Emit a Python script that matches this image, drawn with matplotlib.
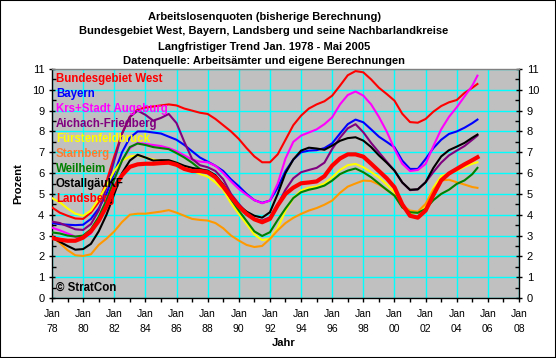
import matplotlib
matplotlib.use("Agg")
import matplotlib.pyplot as plt
from matplotlib.patches import Rectangle
from matplotlib.ticker import MultipleLocator

plt.rcParams['font.family'] = ['Liberation Sans', 'DejaVu Sans']

# ---- data (half-year sample points) ----
years = [1978.0 + 0.5 * i for i in range(55)] + [2005.33]

bundesgebiet_west = [4.35, 4.1, 3.95, 3.82, 3.8, 4.1, 4.6, 5.6, 6.8, 7.9, 8.7, 9.05, 9.15, 9.2,
                     9.25, 9.3, 9.25, 9.1, 9.0, 8.9, 8.84, 8.6, 8.3, 8.0, 7.64, 7.2, 6.8, 6.52,
                     6.52, 6.9, 7.6, 8.3, 8.76, 9.1, 9.3, 9.45, 9.72, 10.2, 10.7, 10.9, 10.84,
                     10.5, 10.1, 9.8, 9.48, 8.85, 8.45, 8.42, 8.6, 8.95, 9.22, 9.4, 9.51, 9.85,
                     10.1, 10.28]
bayern = [3.6, 3.55, 3.52, 3.5, 3.52, 3.8, 4.3, 5.0, 6.0, 7.0, 7.7, 8.0, 8.0, 7.95, 7.9, 7.75,
          7.6, 7.35, 7.05, 6.75, 6.55, 6.35, 6.1, 5.7, 5.37, 5.0, 4.7, 4.57, 4.68, 5.3, 6.1,
          6.65, 7.0, 7.08, 7.1, 7.2, 7.43, 7.9, 8.35, 8.57, 8.44, 8.1, 7.75, 7.5, 7.24, 6.6,
          6.2, 6.2, 6.68, 7.2, 7.6, 7.88, 8.0, 8.18, 8.4, 8.57]
augsburg = [3.38, 3.25, 3.1, 2.95, 2.88, 3.1, 3.8, 4.7, 5.7, 6.6, 7.2, 7.45, 7.4, 7.35, 7.3,
            7.2, 7.05, 6.85, 6.65, 6.55, 6.52, 6.35, 6.0, 5.6, 5.24, 4.95, 4.7, 4.55, 4.68,
            5.5, 6.7, 7.5, 7.8, 7.95, 8.1, 8.35, 8.68, 9.3, 9.75, 9.92, 9.72, 9.3, 8.7, 8.0,
            7.16, 6.45, 6.1, 6.15, 6.44, 7.3, 8.1, 8.7, 9.16, 9.68, 10.2, 10.68]
aichach = [3.67, 3.6, 3.45, 3.3, 3.27, 3.55, 4.2, 5.3, 6.6, 7.9, 8.7, 9.0, 8.8, 8.52, 8.65,
           8.84, 8.4, 7.5, 6.68, 6.38, 6.28, 6.1, 5.7, 5.0, 4.52, 4.1, 3.8, 3.72, 3.88, 4.5,
           5.2, 5.75, 6.04, 6.15, 6.25, 6.5, 7.16, 7.7, 8.15, 8.35, 7.96, 7.45, 7.0, 6.55,
           6.12, 5.55, 5.18, 5.22, 5.56, 6.05, 6.5, 6.85, 7.08, 7.3, 7.6, 7.8]
fuerstenfeldbruck = [4.8, 4.6, 4.3, 4.05, 3.95, 4.2, 4.75, 5.4, 6.1, 6.6, 6.8, 6.85, 6.75,
                     6.65, 6.6, 6.6, 6.5, 6.3, 6.12, 5.96, 5.83, 5.55, 5.2, 4.55, 4.04, 3.55,
                     3.05, 2.78, 2.84, 3.35, 4.2, 4.8, 5.16, 5.3, 5.35, 5.5, 5.8, 6.15, 6.38,
                     6.44, 6.28, 6.05, 5.8, 5.45, 5.08, 4.4, 4.1, 4.1, 4.44, 5.3, 5.85, 6.0,
                     6.12, 6.3, 6.45, 6.52]
starnberg = [2.95, 2.64, 2.3, 2.05, 2.02, 2.1, 2.55, 2.85, 3.2, 3.65, 4.0, 4.05, 4.05, 4.1,
             4.15, 4.22, 4.1, 3.95, 3.8, 3.75, 3.72, 3.6, 3.35, 3.0, 2.76, 2.55, 2.45, 2.5,
             2.84, 3.25, 3.6, 3.85, 4.04, 4.2, 4.32, 4.48, 4.68, 5.05, 5.35, 5.5, 5.64, 5.62,
             5.45, 5.2, 4.92, 4.44, 4.2, 4.15, 4.52, 5.2, 5.65, 5.68, 5.56, 5.45, 5.33, 5.29]
weilheim = [3.15, 3.1, 3.0, 2.95, 3.0, 3.3, 3.9, 4.7, 5.7, 6.6, 7.25, 7.42, 7.35, 7.25, 7.2,
            7.15, 6.96, 6.75, 6.5, 6.2, 6.04, 5.8, 5.4, 4.75, 4.2, 3.7, 3.2, 2.98, 3.16, 3.75,
            4.3, 4.8, 5.08, 5.2, 5.28, 5.4, 5.64, 5.95, 6.12, 6.22, 6.04, 5.8, 5.5, 5.2, 4.92,
            4.35, 4.12, 4.09, 4.28, 4.7, 5.0, 5.2, 5.48, 5.65, 5.95, 6.25]
ostallgaeu = [2.9, 2.7, 2.5, 2.32, 2.35, 2.6, 3.2, 4.0, 5.0, 6.0, 6.6, 6.88, 6.75, 6.6, 6.62,
              6.62, 6.5, 6.35, 6.25, 6.18, 6.12, 5.9, 5.45, 4.85, 4.44, 4.15, 3.95, 3.86, 4.12,
              5.0, 6.0, 6.65, 7.08, 7.22, 7.18, 7.12, 7.32, 7.55, 7.68, 7.72, 7.56, 7.25, 6.85,
              6.5, 6.12, 5.55, 5.2, 5.22, 5.56, 6.25, 6.8, 7.1, 7.27, 7.45, 7.7, 7.85]
landsberg = [2.88, 2.8, 2.75, 2.75, 2.9, 3.2, 3.7, 4.4, 5.3, 5.9, 6.3, 6.42, 6.45, 6.45, 6.48,
             6.5, 6.4, 6.2, 6.1, 6.1, 6.04, 5.8, 5.35, 4.85, 4.4, 4.04, 3.78, 3.64, 3.8, 4.45,
             5.0, 5.3, 5.51, 5.55, 5.6, 5.85, 6.36, 6.7, 6.9, 6.9, 6.79, 6.45, 6.1, 5.75, 5.32,
             4.5, 3.95, 3.86, 4.2, 4.95, 5.65, 5.98, 6.2, 6.42, 6.62, 6.76]

series_names = ["Bundesgebiet West", "Bayern", "Krs+Stadt Augsburg", "Aichach-Friedberg",
                "Fürstenfeldbruck", "Starnberg", "Weilheim", "OstallgäuKF", "Landsberg"]
series_values = [bundesgebiet_west, bayern, augsburg, aichach, fuerstenfeldbruck,
                 starnberg, weilheim, ostallgaeu, landsberg]
line_colors = ["#FF0000", "#0000FF", "#FF00FF", "#800080", "#FFFF00", "#FF9900",
               "#008000", "#000000", "#FF0000"]
text_colors = ["#FF0000", "#0000FF", "#FF00FF", "#800080", "#FFFF00", "#FF7A30",
               "#008000", "#000000", "#FF0000"]
line_widths = [1.5, 1.5, 1.5, 1.5, 1.5, 1.5, 1.5, 1.5, 3.0]

x_tick_years = list(range(1978, 2009, 2))
x_tick_labels = ["Jan\n%02d" % (y % 100) for y in x_tick_years]

title_lines = ["Arbeitslosenquoten (bisherige Berechnung)",
               "Bundesgebiet West, Bayern, Landsberg und seine Nachbarlandkreise",
               "Langfristiger Trend Jan. 1978 - Mai 2005",
               "Datenquelle: Arbeitsämter und eigene Berechnungen"]

# ---- figure ----
W, H = 556, 358
fig = plt.figure(figsize=(W / 100, H / 100), dpi=100)
fig.patch.set_facecolor('white')


def px(x, y):
    return (x / W, 1 - y / H)


L, R, T, B = 52, 519, 69, 298
ax = fig.add_axes([L / W, 1 - B / H, (R - L) / W, (B - T) / H])
ax.set_facecolor('#C0C0C0')

for name, vals, c, lw in zip(series_names, series_values, line_colors, line_widths):
    ax.plot(years, vals, color=c, lw=lw, zorder=3, solid_joinstyle='round')

ax.set_xlim(1978, 2008)
ax.set_ylim(0, 11)
ax.set_xticks(x_tick_years)
ax.set_xticklabels(x_tick_labels, fontsize=7.5, linespacing=1.6)
ax.xaxis.set_minor_locator(MultipleLocator(1))
ax.set_yticks(range(0, 12))
ax.yaxis.set_minor_locator(MultipleLocator(0.5))
ax.tick_params(axis='x', which='major', direction='out', length=3, width=1, pad=5)
ax.tick_params(axis='x', which='minor', direction='out', length=3, width=1)
ax.tick_params(axis='y', which='major', direction='inout', length=5, width=1,
               left=True, right=True, labelleft=True, labelright=True, labelsize=8, pad=3)
ax.tick_params(axis='y', which='minor', direction='in', length=3, width=1,
               left=True, right=True)
ax.grid(True, which='major', color='#00FFFF', lw=1, zorder=1)
ax.set_axisbelow(True)
for s in ['left', 'right', 'bottom']:
    ax.spines[s].set_color('black')
    ax.spines[s].set_linewidth(1)
ax.spines['top'].set_color('#808080')
ax.spines['top'].set_linewidth(1)

# legend-like coloured labels (lines drawn over them)
for i, (name, c) in enumerate(zip(series_names, text_colors)):
    fig.text(*px(56, 82 + 15 * i), name, color=c, fontsize=8.3, fontweight='bold',
             ha='left', va='baseline', zorder=0)
ax.text(0.0085, 0.03, "© StratCon", transform=ax.transAxes, fontsize=8.3,
        fontweight='bold', ha='left', va='baseline', zorder=2)

# title
for i, line in enumerate(title_lines):
    fig.text(*px(264, 19.5 + 15 * i), line, fontsize=8, fontweight='bold',
             ha='center', va='baseline')

fig.text(*px(18, 184), "Prozent", rotation=90, fontsize=8, fontweight='bold',
         ha='center', va='center')
fig.text(*px(284, 343), "Jahr", fontsize=8, fontweight='bold', ha='center', va='center')

fig.patches.append(Rectangle((0, 0), 1, 1, transform=fig.transFigure, fill=False,
                             ec='black', lw=1.5))

fig.savefig("out.png", dpi=100)
